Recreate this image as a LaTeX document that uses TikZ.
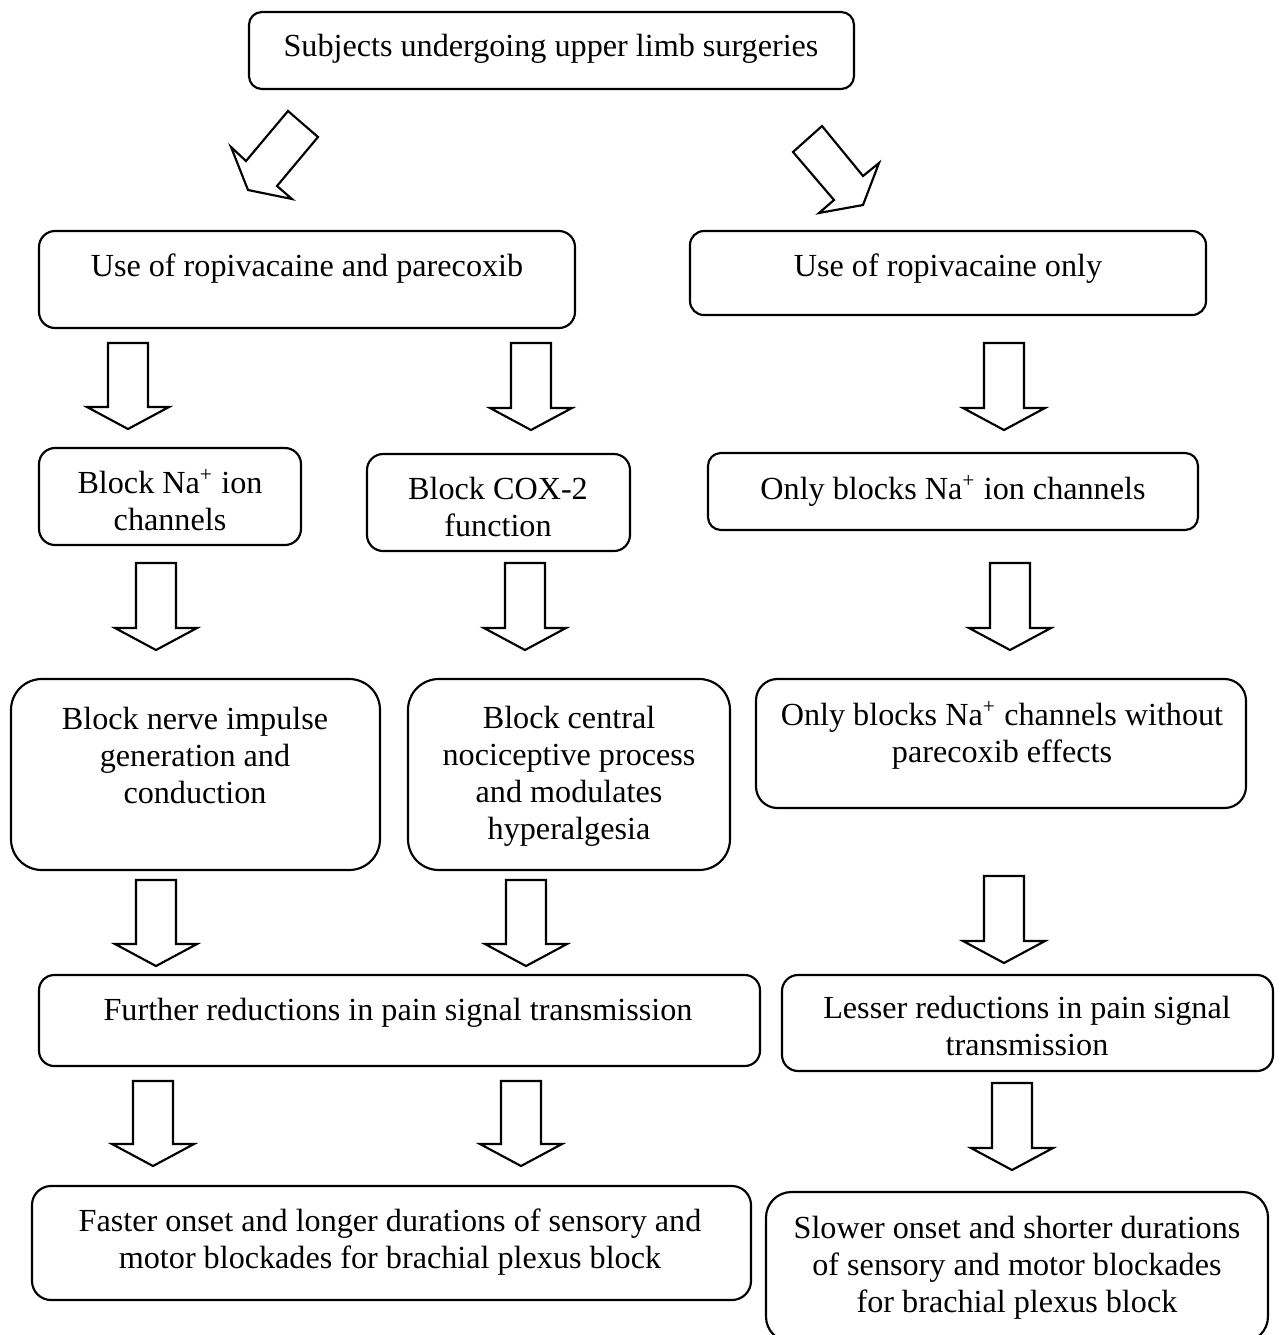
\documentclass[tikz,border=0pt]{standalone}
\usepackage{fontspec}
\setmainfont{Liberation Serif}
\tikzset{
  box/.style={draw,line width=0.8pt},
  txt/.style={align=center,inner sep=0pt,font=\fontsize{12}{13.8}\selectfont},
  blockarr/.style={draw,line width=0.8pt,line join=miter,fill=white}
}
\begin{document}
\begin{tikzpicture}[x=0.373pt,y=-0.373pt]
	  \useasboundingbox (0,0) rectangle (1281,1335);
	  % boxes
	  \draw[box,rounded corners=4.8pt] (249,12) rectangle (854,89);
	  \draw[box,rounded corners=6pt] (39,231) rectangle (575,328);
	  \draw[box,rounded corners=5.2pt] (690,231) rectangle (1206,315);
	  \draw[box,rounded corners=6pt] (39,448) rectangle (301,545);
	  \draw[box,rounded corners=6pt] (367,454) rectangle (630,551);
	  \draw[box,rounded corners=4.8pt] (708,453) rectangle (1198,530);
	  \draw[box,rounded corners=11.5pt] (11,679) rectangle (380,870);
	  \draw[box,rounded corners=11.5pt] (408,679) rectangle (730,870);
	  \draw[box,rounded corners=8pt] (756,679) rectangle (1246,808);
	  \draw[box,rounded corners=5.7pt] (39,975) rectangle (760,1066);
	  \draw[box,rounded corners=6pt] (782,975) rectangle (1273,1071);
	  \draw[box,rounded corners=7.1pt] (32,1186) rectangle (751,1300);
	  \draw[box,rounded corners=9.5pt] (766,1192) rectangle (1268,1342);
	  % texts
	  \node[txt] (subj) at (551,49) {Subjects undergoing upper limb surgeries};
	  \node[txt] (ropapar) at (307,269) {Use of ropivacaine and parecoxib};
	  \node[txt] (roponly) at (948,269) {Use of ropivacaine only};
	  \node[txt] (nablk) at (170,500) {Block Na\textsuperscript{+} ion\\channels};
	  \node[txt] (coxblk) at (498,506.5) {Block COX-2\\function};
	  \node[txt] (naonly) at (953,491) {Only blocks Na\textsuperscript{+} ion channels};
	  \node[txt] (nerve) at (195,755) {Block nerve impulse\\generation and\\conduction};
	  \node[txt] (central) at (569,776.5) {Block central\\nociceptive process\\and modulates\\hyperalgesia};
	  \node[txt] (noeff) at (1002,735.5) {Only blocks Na\textsuperscript{+} channels without\\parecoxib effects};
	  \node[txt] (further) at (398,1013) {Further reductions in pain signal transmission};
	  \node[txt] (lesser) at (1027,1026) {Lesser reductions in pain signal\\transmission};
	  \node[txt] (faster) at (390,1242.5) {Faster onset and longer durations of sensory and\\motor blockades for brachial plexus block};
	  \node[txt] (slower) at (1017,1268) {Slower onset and shorter durations\\of sensory and motor blockades\\for brachial plexus block};
	  % slanted block arrows
	  \draw[blockarr] (288,111) -- (318,137) -- (277,186) -- (292,199) -- (248,190) -- (231,147) -- (246,161) -- cycle;
	  \draw[blockarr] (822,126) -- (793,152) -- (834,200) -- (819,213) -- (863,205) -- (879,163) -- (863,176) -- cycle;
	  % down block arrows
	  \foreach \cx/\yt/\yb in {128/343/429, 531/343/430, 1004/343/430,
	                           156/563/650, 525/563/650, 1010/563/650,
	                           156/880/966, 526/880/966, 1004/876/963,
	                           153/1081/1166, 521/1081/1166, 1012/1083/1170}
	    \draw[blockarr] ({\cx-20},\yt) -- ({\cx+20},\yt) -- ({\cx+20},{\yb-22})
	      -- ({\cx+41},{\yb-22}) -- (\cx,\yb) -- ({\cx-41},{\yb-22})
	      -- ({\cx-20},{\yb-22}) -- cycle;
\end{tikzpicture}
\end{document}
